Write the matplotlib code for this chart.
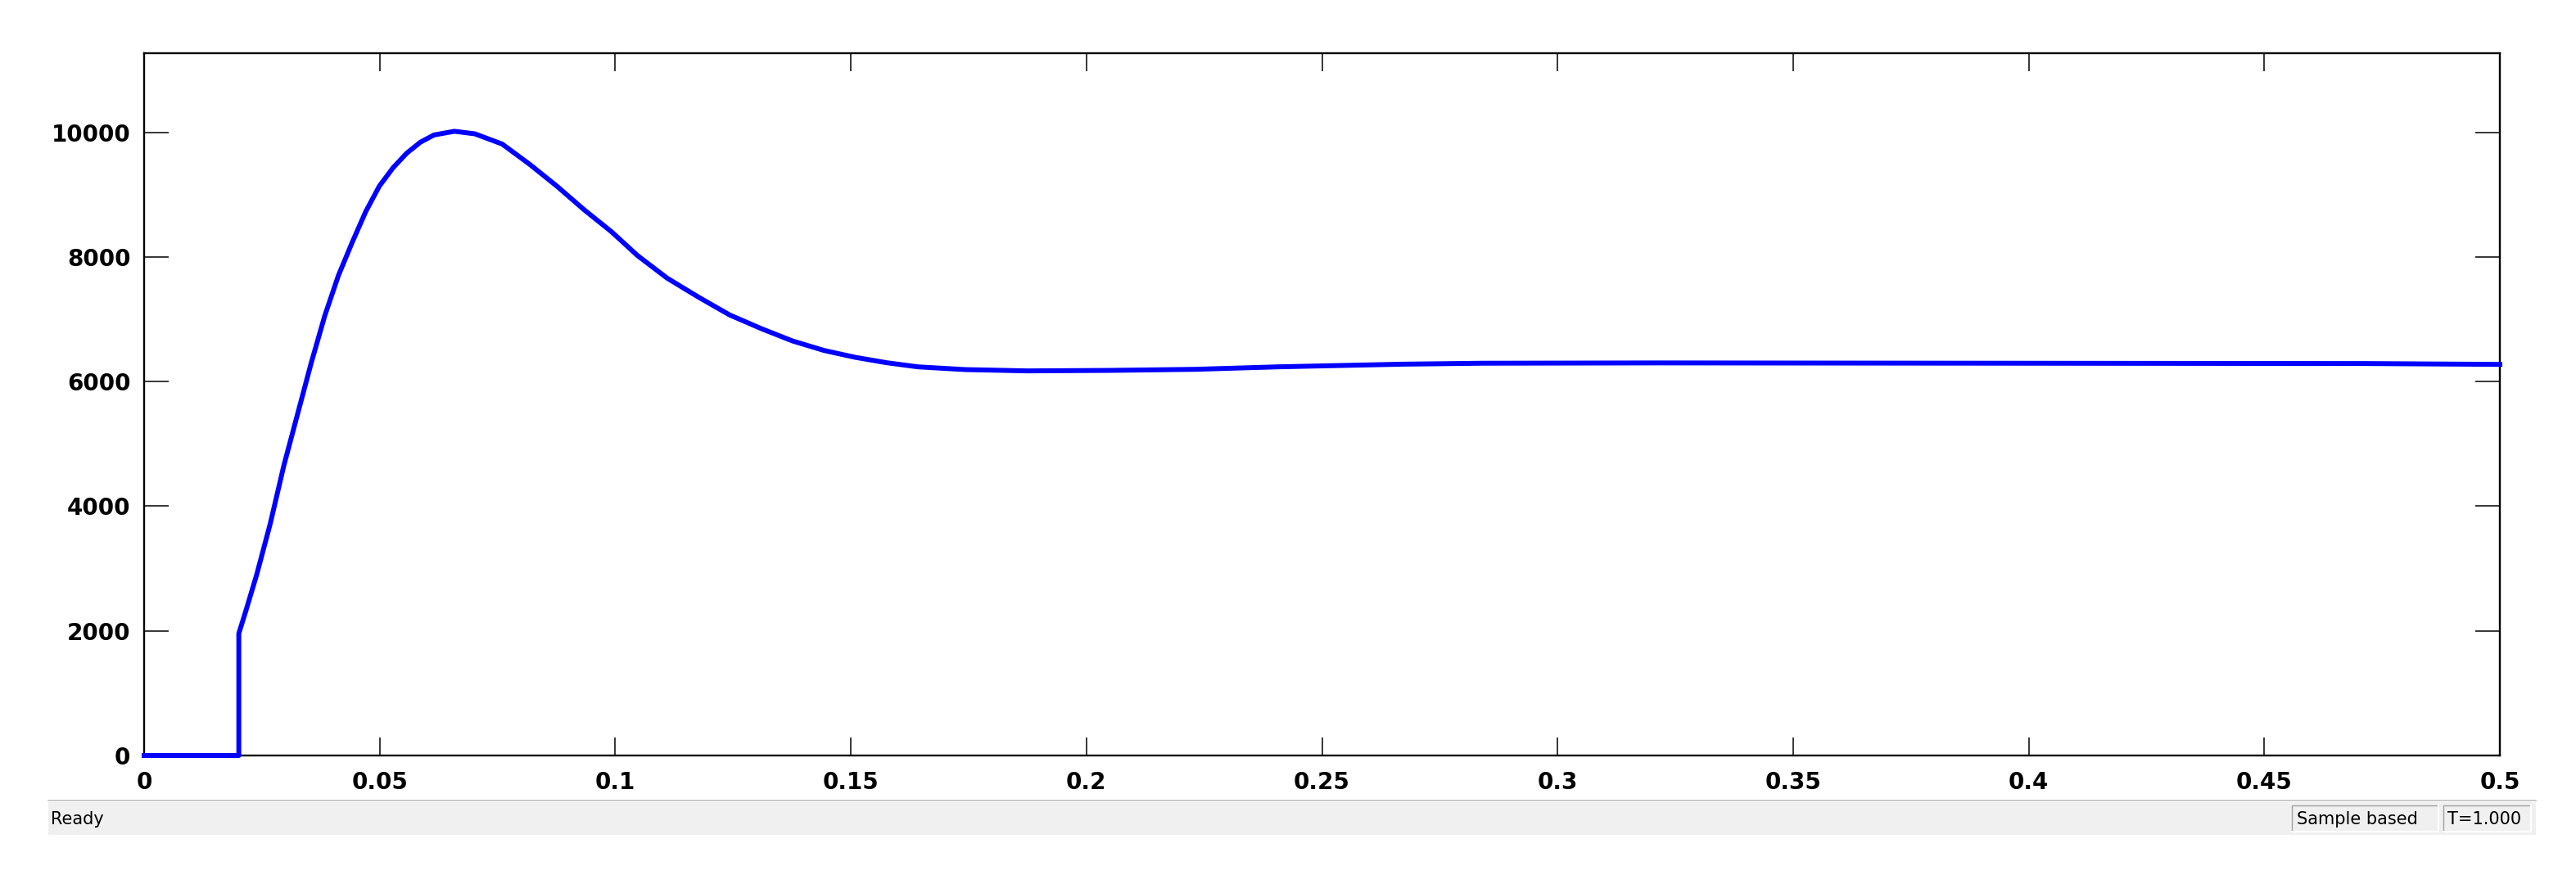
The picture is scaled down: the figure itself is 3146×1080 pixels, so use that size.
import matplotlib
matplotlib.use("Agg")
import matplotlib.pyplot as plt
from matplotlib.patches import Rectangle
from matplotlib.lines import Line2D

# scope trace (time in s, value)
t = [0.0, 0.0201, 0.0201, 0.02155, 0.02387, 0.02676, 0.02966, 0.03256, 0.03545,
     0.03835, 0.04124, 0.04414, 0.04704, 0.04993, 0.05283, 0.05573, 0.05862,
     0.06152, 0.06587, 0.07021, 0.0760, 0.0818, 0.0876, 0.0934, 0.0992,
     0.1047, 0.1110, 0.1177, 0.1243, 0.1310, 0.1376, 0.1443, 0.1509, 0.1576,
     0.1642, 0.1742, 0.1875, 0.2050, 0.2230, 0.2407, 0.2673, 0.2840, 0.3215,
     0.4720, 0.5000]
v = [0, 0, 1958, 2310, 2895, 3716, 4653, 5475, 6295,
     7058, 7702, 8230, 8728, 9137, 9431, 9665, 9841,
     9958, 10017, 9976, 9812, 9489, 9137, 8757, 8405,
     8024, 7661, 7354, 7069, 6850, 6653, 6500, 6390, 6303,
     6237, 6193, 6172, 6180, 6197, 6237, 6280, 6295, 6300,
     6290, 6276]

xticks = [0, 0.05, 0.1, 0.15, 0.2, 0.25, 0.3, 0.35, 0.4, 0.45, 0.5]
xlabels = ["0", "0.05", "0.1", "0.15", "0.2", "0.25", "0.3", "0.35", "0.4", "0.45", "0.5"]
yticks = [0, 2000, 4000, 6000, 8000, 10000]

W, H = 3146, 1080
plt.rcParams["font.family"] = ["DejaVu Sans"]
fig = plt.figure(figsize=(W / 100, H / 100), dpi=100)


def fx(px):
    return px / W


def fy(py):
    return 1 - py / H


ax = fig.add_axes([fx(176), fy(923), fx(3053) - fx(176), fy(65) - fy(923)])
ax.plot(t, v, color="#0000ff", lw=4.3, zorder=3, clip_on=False)
ax.set_xlim(0, 0.5)
ax.set_ylim(0, 11270)
ax.set_xticks(xticks)
ax.set_xticklabels(xlabels)
ax.set_yticks(yticks)
for s in ax.spines.values():
    s.set_linewidth(1.7)
ax.tick_params(axis="both", direction="in", top=True, right=True, width=1.1,
               labelsize=20, colors="black")
ax.tick_params(axis="x", length=15.8, pad=14)
ax.tick_params(axis="y", length=21.6, pad=12)
for lab in ax.get_xticklabels() + ax.get_yticklabels():
    lab.set_fontweight("bold")

# status bar under the scope
fig.add_artist(Line2D([fx(59), fx(3097)], [fy(978), fy(978)], color="#c0c0c0", lw=1.2))
fig.add_artist(Rectangle((fx(59), fy(1020)), fx(3097) - fx(59), fy(980) - fy(1020),
                         facecolor="#f0f0f0", edgecolor="none"))
for x0, x1 in [(2799, 2978), (2984, 3091)]:
    fig.add_artist(Rectangle((fx(x0), fy(1016)), fx(x1) - fx(x0), fy(984) - fy(1016),
                             facecolor="#f0f0f0", edgecolor="none"))
    fig.add_artist(Line2D([fx(x0), fx(x0), fx(x1)], [fy(1016), fy(984), fy(984)],
                          color="#a0a0a0", lw=1.0))
    fig.add_artist(Line2D([fx(x0), fx(x1), fx(x1)], [fy(1016), fy(1016), fy(984)],
                          color="white", lw=1.5))
fig.text(fx(62), fy(1001), "Ready", fontsize=15, va="center", ha="left")
fig.text(fx(2805), fy(1001), "Sample based", fontsize=15, va="center", ha="left")
fig.text(fx(2989), fy(1001), "T=1.000", fontsize=15, va="center", ha="left")

fig.savefig("out.png", dpi=100)
